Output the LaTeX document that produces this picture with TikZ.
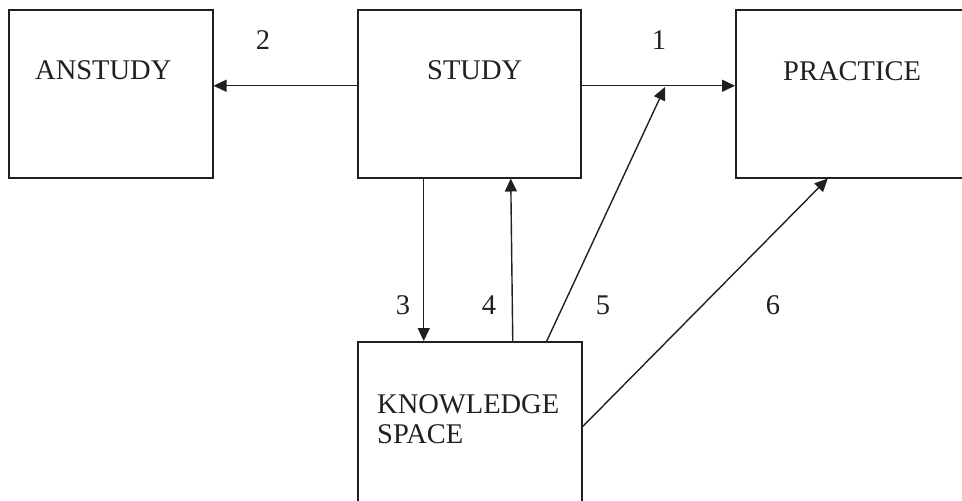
\documentclass[tikz,border=0pt]{standalone}
\usepackage{fontspec}
\setmainfont{Liberation Serif}
\usetikzlibrary{arrows.meta,calc}
\definecolor{ink}{HTML}{231F20}
\tikzset{
  box/.style={draw=ink, line width=1.5pt, rectangle, inner sep=0pt, anchor=north west},
  lbl/.style={text=ink, inner sep=0pt, font=\fontsize{28.5}{30}\selectfont},
  num/.style={text=ink, inner sep=0pt, anchor=base, font=\fontsize{28.5}{30}\selectfont},
  conn/.style={draw=ink, line width=1.4pt, -{Triangle[length=13pt,width=12pt]}}
}
\begin{document}
\begin{tikzpicture}[x=1pt,y=-1pt]
\useasboundingbox (0,0) rectangle (962,501);
\fill[white] (0,0) rectangle (962,501);
\clip (0,0) rectangle (962,501);
% boxes
\node[box, minimum width=204pt, minimum height=168pt] (anstudy) at (8,9) {};
\node[box, minimum width=223pt, minimum height=168pt] (study) at (357,9) {};
\node[box, minimum width=240pt, minimum height=168pt] (practice) at (735,9) {};
\node[box, minimum width=224pt, minimum height=179pt] (know) at (357,341) {};
% texts
\node[lbl, anchor=base west] (tA) at (35,79) {ANSTUDY};
\node[lbl, anchor=base west] (tS) at (427,79) {STUDY};
\node[lbl, anchor=base west] (tP) at (783,80) {PRACTICE};
\node[lbl, anchor=base west] (tK1) at (377,413) {KNOWLEDGE};
\node[lbl, anchor=base west] (tK2) at (377,443) {SPACE};
% numbers
\node[num] (n1) at (659,49) {1};
\node[num] (n2) at (263,49) {2};
\node[num] (n3) at (403,314) {3};
\node[num] (n4) at (489,314) {4};
\node[num] (n5) at (603,314) {5};
\node[num] (n6) at (773,314) {6};
% connectors
\coordinate (j5) at (665,87);
\draw[conn] ([yshift=8pt]study.east) -- ([yshift=8pt]practice.west);
\draw[conn] ([yshift=8pt]study.west) -- ([yshift=8pt]anstudy.east);
\draw[conn] ([xshift=-45.5pt]study.south) -- ([xshift=-46pt]know.north);
\draw[conn] ([xshift=43pt]know.north) -- ([xshift=41.5pt]study.south);
\draw[conn] ([xshift=77pt]know.north) -- (j5);
\draw[conn] ([yshift=4.5pt]know.east) -- ([xshift=-28pt]practice.south);
\end{tikzpicture}
\end{document}
